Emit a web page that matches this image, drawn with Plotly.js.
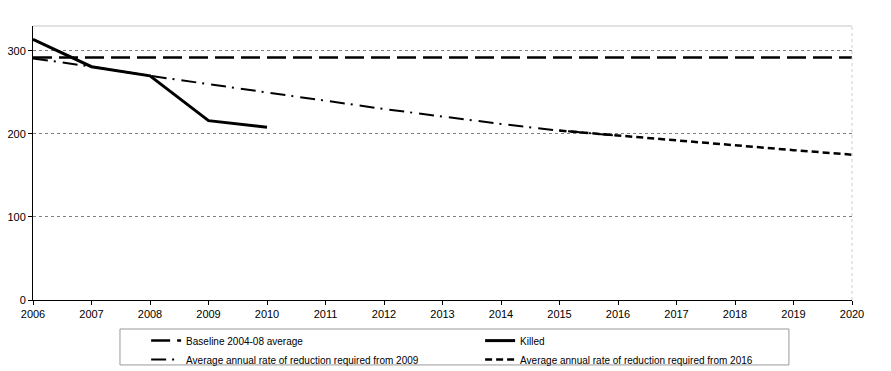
<!DOCTYPE html>
<html>
<head>
<meta charset="utf-8">
<script src="https://cdn.plot.ly/plotly-3.0.1.min.js"></script>
<style>html,body{margin:0;padding:0;background:#fff;}#chart{width:891px;height:371px;}</style>
</head>
<body>
<div id="chart"></div>
<script>
// Years
const years = [2006,2007,2008,2009,2010,2011,2012,2013,2014,2015,2016,2017,2018,2019,2020];
const xTicks = years;

// Baseline 2004-08 average
const baselineYears = [2006, 2020];
const baselineValues = [292, 292];

// Killed
const killedYears = [2006, 2007, 2008, 2009, 2010];
const killedValues = [314, 281, 270, 216, 208];

// Average annual rate of reduction required from 2009
const rate2009Years = [2006, 2007, 2008, 2009, 2010, 2011, 2012, 2013, 2014, 2015, 2016];
const rate2009Values = [291, 281, 270, 260, 250, 240, 230, 221, 212, 204, 198];

// Average annual rate of reduction required from 2016
const rate2016Years = [2015, 2016, 2017, 2018, 2019, 2020];
const rate2016Values = [204, 198, 192, 186, 180.5, 175];

const names = [
  "Baseline 2004-08 average",
  "Killed",
  "Average annual rate of reduction required from 2009",
  "Average annual rate of reduction required from 2016"
];

const FONT = "Arial, 'Liberation Sans', sans-serif";

const traces = [
  {x: baselineYears, y: baselineValues, name: names[0], mode: "lines",
   line: {color: "#000", width: 2.5, dash: "19px,7px"}},
  {x: killedYears, y: killedValues, name: names[1], mode: "lines",
   line: {color: "#000", width: 3}},
  {x: rate2009Years, y: rate2009Values, name: names[2], mode: "lines",
   line: {color: "#000", width: 2, dash: "15px,6px,2px,7px"}},
  {x: rate2016Years, y: rate2016Values, name: names[3], mode: "lines",
   line: {color: "#000", width: 2.5, dash: "7px,4px"}}
];

const layout = {
  width: 891, height: 371,
  margin: {l: 33, r: 39, t: 26, b: 71, pad: 0, autoexpand: false},
  paper_bgcolor: "#fff", plot_bgcolor: "#fff",
  font: {family: FONT, size: 11, color: "#000"},
  showlegend: true,
  legend: {
    orientation: "h", xref: "container", yref: "container",
    x: 0.164, y: 0.121, xanchor: "left", yanchor: "top",
    entrywidth: 289, entrywidthmode: "pixels",
    font: {family: FONT, size: 10, color: "#000"},
    bgcolor: "rgba(0,0,0,0)", borderwidth: 0,
    tracegroupgap: 0, itemwidth: 30
  },
  xaxis: {
    range: [2006, 2020], tickvals: xTicks, ticktext: xTicks.map(String),
    showgrid: false, zeroline: false,
    showline: true, linecolor: "#000", linewidth: 1,
    ticks: "outside", ticklen: 4, tickcolor: "#000",
    tickfont: {family: FONT, size: 11}, fixedrange: true
  },
  yaxis: {
    range: [0, 330], tickvals: [0, 100, 200, 300],
    showgrid: true, gridcolor: "#808080", gridwidth: 1, griddash: "dot",
    zeroline: false,
    showline: true, linecolor: "#000", linewidth: 1,
    ticks: "outside", ticklen: 4, tickcolor: "#000",
    tickfont: {family: FONT, size: 11}, fixedrange: true
  },
  shapes: [
    {type: "line", xref: "paper", yref: "paper", x0: 0, x1: 1, y0: 1, y1: 1,
     line: {color: "#d8d8d8", width: 1.5}},
    {type: "line", xref: "paper", yref: "paper", x0: 1, x1: 1, y0: 0, y1: 1,
     line: {color: "#cccccc", width: 1, dash: "dot"}},
    {type: "rect", xref: "paper", yref: "paper",
     x0: 0.1062, x1: 0.923, y0: -0.1058, y1: -0.237,
     line: {color: "#999", width: 1}, fillcolor: "rgba(0,0,0,0)"}
  ]
};

Plotly.newPlot("chart", traces, layout, {displayModeBar: false, staticPlot: true});
</script>
</body>
</html>
